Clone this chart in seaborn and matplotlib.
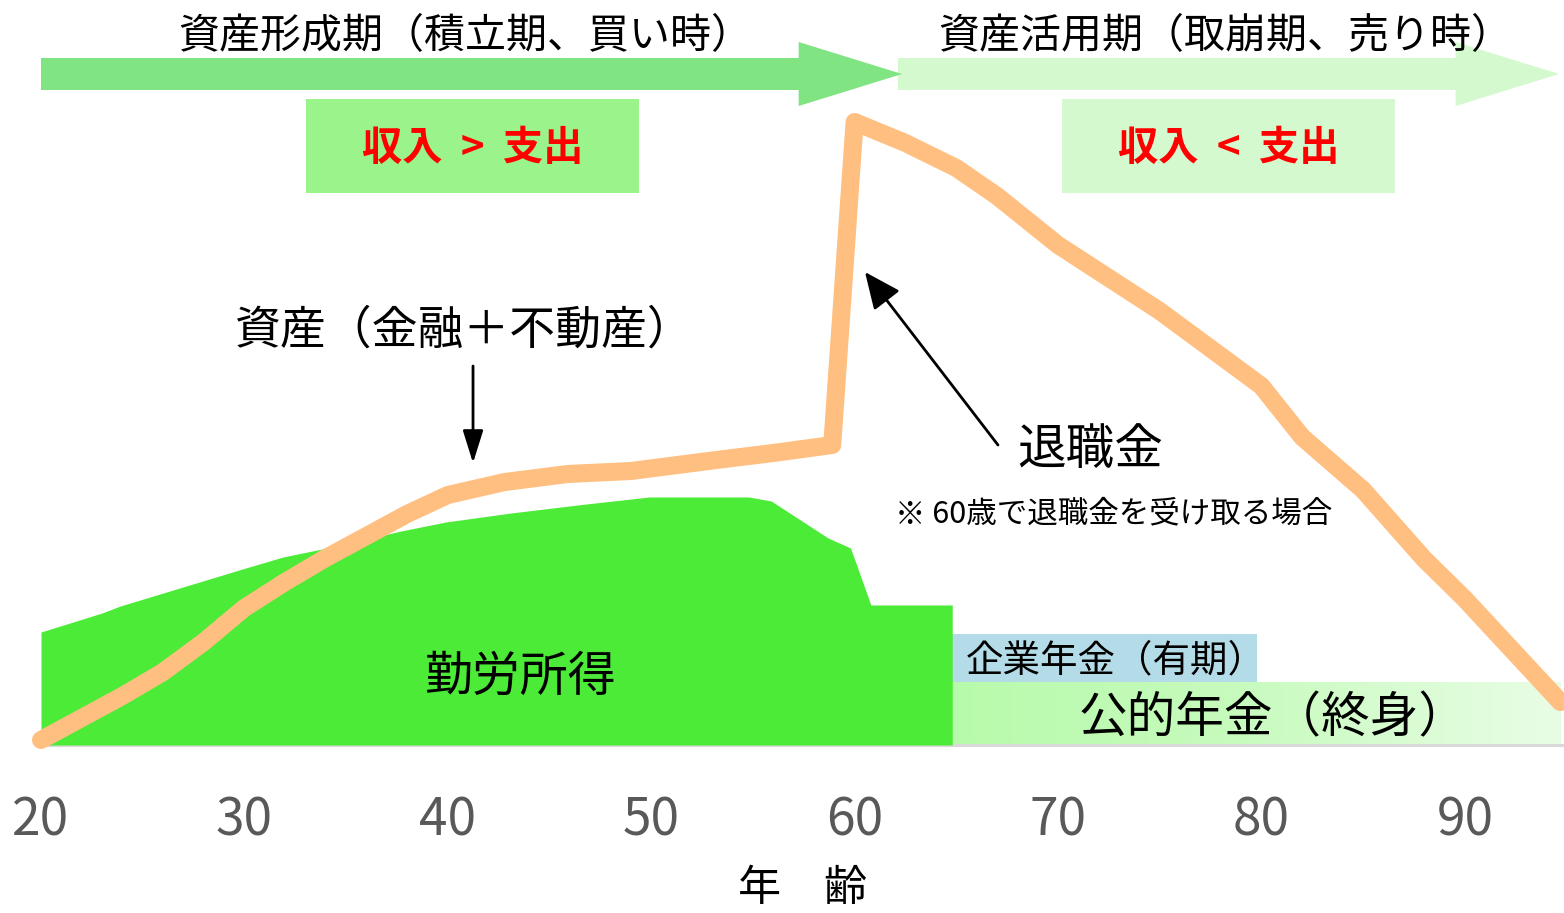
import matplotlib
matplotlib.use("Agg")
import matplotlib.pyplot as plt
import numpy as np
import pandas as pd
import seaborn as sns
from matplotlib.patches import Polygon, Rectangle
from matplotlib.colors import LinearSegmentedColormap

# ---------------- data ----------------
# asset balance (financial + real estate) by age
asset_age = [20, 22, 24, 26, 28, 30, 32, 34, 36, 38, 40, 42.8, 45.9, 49.0, 53.2,
             56, 58.9, 60, 62.5, 65, 67, 70, 75, 80, 82, 85, 88, 90, 94.7]
asset_val = [5, 27, 49, 73, 103, 137, 163, 187, 209, 231, 250, 263, 271, 274, 285,
             292, 300, 623, 602, 577, 549, 500, 434, 359, 308, 255, 186, 146, 43]

# earned income by age
wage_age = [20, 23.0, 23.9, 29.9, 31.9, 34.3, 37.7, 39.9, 43.1, 46.8, 49.9,
            54.8, 55.9, 58.7, 59.8, 60.8, 64.8]
wage_val = [113, 132, 139, 176, 188, 198, 214, 223, 232, 241, 248,
            248, 244, 207, 197, 140, 140]

# pensions
public_pension_age = [64.8, 94.7]
public_pension_val = [63, 63]
corp_pension_age = [64.8, 79.8]
corp_pension_low = [63, 63]
corp_pension_high = [111, 111]

tick_ages = [20, 30, 40, 50, 60, 70, 80, 90]

# life phases (start age, end age, label, colour)
phase_start = [20, 62.13]
phase_end = [62.33, 94.63]
phase_label = ["資産形成期（積立期、買い時）", "資産活用期（取崩期、売り時）"]
phase_color = ["#80E482", "#D4F9CE"]
balance_label = ["収入  >  支出", "収入  <  支出"]
balance_color = ["#9AF38B", "#D4F9CE"]

# ---------------- style ----------------
sns.set_theme(style="white")
plt.rcParams["font.family"] = ["Noto Sans CJK JP", "DejaVu Sans"]

W, H = 1564, 913
fig = plt.figure(figsize=(W / 100, H / 100), dpi=100)
ax = fig.add_axes([41 / W, 168 / H, 1523 / W, 745 / H])

XMAX = 20 + 1523 / 20.34
ax.set_xlim(20, XMAX)
ax.set_ylim(0, 745)

# public pension band with a fading gradient
grad_cmap = LinearSegmentedColormap.from_list(
    "pension", [(0, "#B8FAAC"), (0.45, "#C6FBBC"), (1, "#E9FDE6")])
grad = np.linspace(0, 1, 256).reshape(1, -1)
ax.imshow(grad, cmap=grad_cmap, aspect="auto", origin="lower",
          extent=[public_pension_age[0], public_pension_age[1], 0, public_pension_val[0]],
          zorder=2, interpolation="bicubic")

# corporate pension band
ax.fill_between(corp_pension_age, corp_pension_low, corp_pension_high,
                color="#B4DCE8", lw=0, zorder=3)

# earned income area
ax.fill_between(wage_age, 0, wage_val, color="#4CEB37", lw=0, zorder=3)

# asset line
df_asset = pd.DataFrame({"age": asset_age, "asset": asset_val})
sns.lineplot(data=df_asset, x="age", y="asset", ax=ax, sort=False,
             color="#FFBF80", lw=13, solid_capstyle="round",
             solid_joinstyle="round", clip_on=False, zorder=4)

# phase arrows
def phase_arrow(x0, x1, color, z):
    head = 5.08
    yc, bh, hh = 671, 16, 32
    pts = [(x0, yc - bh), (x1 - head, yc - bh), (x1 - head, yc - hh), (x1, yc),
           (x1 - head, yc + hh), (x1 - head, yc + bh), (x0, yc + bh)]
    ax.add_patch(Polygon(pts, closed=True, facecolor=color, edgecolor="none",
                         zorder=z, clip_on=False))

phase_arrow(phase_start[1], phase_end[1], phase_color[1], 5)
phase_arrow(phase_start[0], phase_end[0], phase_color[0], 6)

ax.text(40.85, 708, phase_label[0], fontsize=29.5, ha="center", va="center",
        color="black", zorder=7)
ax.text(78.2, 708, phase_label[1], fontsize=29.5, ha="center", va="center",
        color="black", zorder=7)

# income vs. spending boxes
box_x = [(33.03, 49.40), (70.20, 86.57)]
for (bx0, bx1), lab, col in zip(box_x, balance_label, balance_color):
    ax.add_patch(Rectangle((bx0, 552), bx1 - bx0, 94, facecolor=col,
                           edgecolor="none", zorder=5))
    ax.text((bx0 + bx1) / 2, 597, lab, fontsize=29, fontweight="bold",
            color="#FF0000", ha="center", va="center", zorder=7)

# annotations
ax.text(40.8, 415, "資産（金融＋不動産）", fontsize=33, ha="center",
        va="center", color="black", zorder=7)
ax.annotate("", xy=(41.24, 282), xytext=(41.24, 379),
            arrowprops=dict(arrowstyle="-|>,head_length=0.8,head_width=0.25",
                            mutation_scale=25, lw=2, color="black",
                            shrinkA=0, shrinkB=0), zorder=7)

ax.text(71.57, 295, "退職金", fontsize=35, ha="center", va="center",
        color="black", zorder=7)
ax.annotate("", xy=(60.51, 473), xytext=(67.05, 300),
            arrowprops=dict(arrowstyle="-|>,head_length=0.9,head_width=0.4",
                            mutation_scale=25, lw=2, color="black",
                            shrinkA=0, shrinkB=0), zorder=7)
ax.text(72.75, 231, "※ 60歳で退職金を受け取る場合", fontsize=22, ha="center",
        va="center", color="black", zorder=7)

ax.text(72.85, 84, "企業年金（有期）", fontsize=27, ha="center", va="center",
        color="black", zorder=7)
ax.text(80.57, 26, "公的年金（終身）", fontsize=35, ha="center", va="center",
        color="black", zorder=7)
ax.text(43.55, 68, "勤労所得", fontsize=34.5, ha="center", va="center",
        color="black", zorder=7)

# axes
sns.despine(ax=ax, left=True, top=True, right=True)
ax.spines["bottom"].set_color("#D9D9D9")
ax.spines["bottom"].set_linewidth(2.2)
ax.set_yticks([])
ax.set_xticks(tick_ages)
ax.set_xticklabels([str(t) for t in tick_ages])
ax.tick_params(axis="x", length=0, pad=35, labelsize=37, labelcolor="#595959")
ax.set_ylabel("")
ax.set_xlabel("年　齢", fontsize=31, color="black")
ax.xaxis.set_label_coords(0.5, (745 - 889) / 745)
ax.xaxis.label.set_va("center")
ax.set_facecolor("white")

fig.savefig("out.png", dpi=100, facecolor="white")
